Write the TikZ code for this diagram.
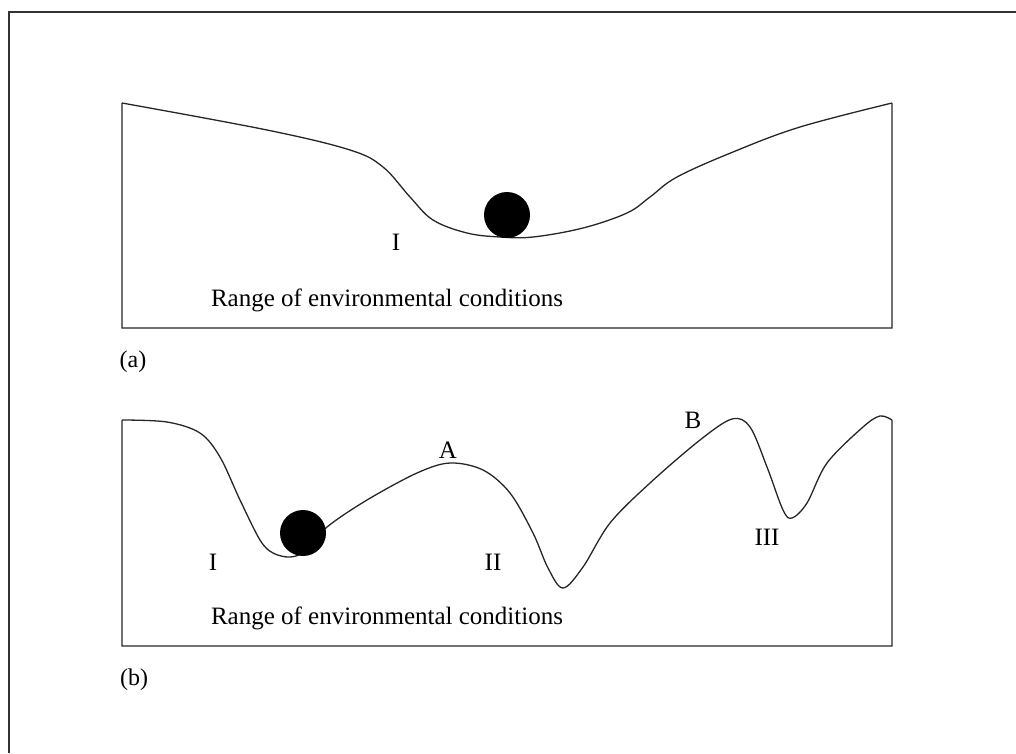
\documentclass[tikz,border=0pt]{standalone}
\usepackage{fontspec}
\setmainfont{Liberation Serif}
\usetikzlibrary{positioning}

\begin{document}
\begin{tikzpicture}[
  x=1pt, y=-1pt,
  frame/.style={draw=black!80, line width=1.3pt},
  land/.style={draw=black!85, line width=1.3pt},
  ball/.style={circle, fill=black, minimum size=46pt, inner sep=0pt},
  lbl/.style={font=\fontsize{25}{28}\selectfont, inner sep=0pt},
  panelcap/.style={font=\fontsize{24}{27}\selectfont, inner sep=0pt}
]
\useasboundingbox (0,0) rectangle (1016,753);

% outer frame (cut off at right and bottom)
\draw[frame] (9,753) -- (9,12) -- (1016,12);

% Panel (a)
\draw[land] (892,103) -- (892,328) -- (122,328) -- (122,103)
  plot[smooth, tension=0.6] coordinates {(122,103) (267,130) (350,150) (383,167)
    (410,197) (433,220) (467,233) (500,237) (533,237) (583,228) (627,213)
    (650,197) (677,177) (733,152) (800,127) (892,103)};
\node[ball] (balla) at (507,215) {};
\node[lbl] (Ia) at (396,242) {I};
\node[lbl] (rangea) at (387,300) {Range of environmental conditions};
\node[panelcap] (capa) at (133,362) {(a)};

% Panel (b)
\draw[land] (892,420) -- (892,646) -- (122,646) -- (122,420)
  plot[smooth, tension=0.55] coordinates {(122,420) (167,422) (200,433) (220,457)
    (240,500) (260,540) (273,553) (290,557) (305,551) (327,527) (367,500)
    (417,473) (450,463) (483,470) (510,493) (533,533) (548,568) (563,588)
    (583,567) (610,523) (650,483) (700,440) (732,419) (750,427) (767,467)
    (783,510) (792,518) (807,503) (827,463) (863,427) (880,416) (892,420)};
\node[ball] (ballb) at (303,533) {};
\node[lbl] (Ib) at (213,562) {I};
\node[lbl] (A) at (448,450) {A};
\node[lbl] (IIb) at (493,562) {II};
\node[lbl] (B) at (693,420) {B};
\node[lbl] (IIIb) at (767,537) {III};
\node[lbl] (rangeb) at (387,618) {Range of environmental conditions};
\node[panelcap] (capb) at (134,680) {(b)};

\end{tikzpicture}
\end{document}
